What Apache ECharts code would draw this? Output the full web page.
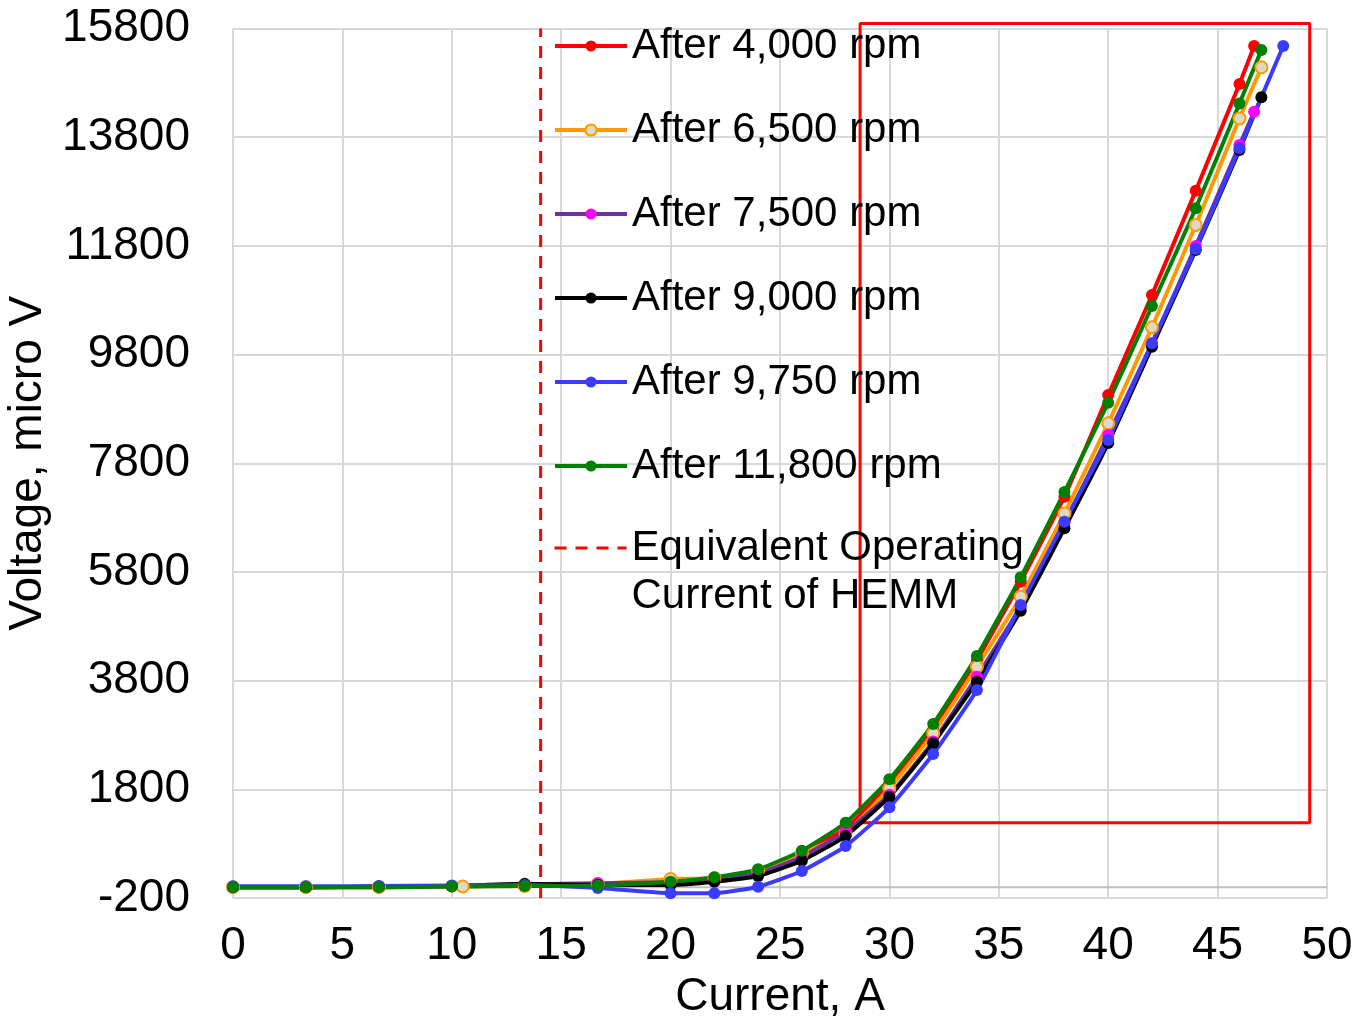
<!DOCTYPE html>
<html>
<head>
<meta charset="utf-8">
<title>Voltage vs Current</title>
<script src="https://cdn.jsdelivr.net/npm/echarts@6/dist/echarts.min.js"></script>
<style>
  html, body { margin: 0; padding: 0; background: #fff; }
  #chart { width: 1360px; height: 1019px; }
</style>
</head>
<body>
<div id="chart"></div>
<script>
// Current (A) and voltage (micro V) readings for each run
const current4000  = [0, 3.33, 6.67, 10, 13.33, 16.67, 20, 22, 24, 26, 28, 30, 32, 34, 36, 38, 40, 42, 44, 46, 46.67];
const voltage4000  = [0, 0, 0, 10, 30, 50, 120, 170, 300, 640, 1082, 1910, 2891, 4179, 5620, 7184, 9055, 10895, 12816, 14778, 15477];

const current6500  = [0, 3.33, 6.67, 10.5, 13.33, 16.67, 20, 22, 24, 26, 28, 30, 32, 34, 36, 38, 40, 42, 44, 46, 47];
const voltage6500  = [0, 0, 0, 10, 20, 60, 150, 162, 302, 622, 990, 1818, 2830, 4056, 5344, 6877, 8534, 10301, 12183, 14145, 15085];

const current7500  = [0, 3.33, 6.67, 10, 13.33, 16.67, 20, 22, 24, 26, 28, 30, 32, 34, 36, 38, 40, 42, 44, 46, 46.67];
const voltage7500  = [0, 0, 10, 20, 50, 70, 90, 130, 250, 560, 1020, 1700, 2680, 3872, 5160, 6700, 8319, 10006, 11797, 13655, 14268];

const current9000  = [0, 3.33, 6.67, 10, 13.33, 16.67, 20, 22, 24, 26, 28, 30, 32, 34, 36, 38, 40, 42, 44, 46, 47];
const voltage9000  = [0, 0, 10, 20, 60, 40, 40, 100, 205, 486, 940, 1664, 2646, 3780, 5086, 6602, 8172, 9944, 11723, 13563, 14533];

const current9750  = [0, 3.33, 6.67, 10, 13.33, 16.67, 20, 22, 24, 26, 28, 30, 32, 34, 36, 38, 40, 42, 44, 46, 48];
const voltage9750  = [15, 15, 20, 30, 40, -16, -113, -113, 8, 297, 756, 1469, 2450, 3627, 5191, 6724, 8227, 10006, 11742, 13595, 15477];

const current11800 = [0, 3.33, 6.67, 10, 13.33, 16.67, 20, 22, 24, 26, 28, 30, 32, 34, 36, 38, 40, 42, 44, 46, 47];
const voltage11800 = [0, 0, 0, 10, 20, 30, 100, 181, 328, 670, 1186, 1984, 3002, 4253, 5701, 7270, 8914, 10693, 12491, 14421, 15403];

// Equivalent operating current of the HEMM (vertical reference)
const hemmCurrent = [14.06, 14.06];
const hemmVoltage = [-200, 15800];

// Highlighted region: current range and voltage range
const boxCurrent = [28.66, 49.21];
const boxVoltage = [1186, 15892];

// Axis ranges
const currentAxis = { min: 0, max: 50, step: 5 };
const voltageAxis = { min: -200, max: 15800, step: 2000 };

const runNames = ['After 4,000 rpm', 'After 6,500 rpm', 'After 7,500 rpm',
                  'After 9,000 rpm', 'After 9,750 rpm', 'After 11,800 rpm'];
const hemmName = 'Equivalent Operating\nCurrent of HEMM';

const pairs = (xs, ys) => xs.map((x, i) => [x, ys[i]]);

const FONT = "'Liberation Sans', Arial, sans-serif";

function runSeries(name, xs, ys, lineColor, fill, border) {
  return {
    name: name,
    type: 'line',
    data: pairs(xs, ys),
    symbol: 'circle',
    symbolSize: 12,
    smooth: 0.15,
    lineStyle: { color: lineColor, width: 4 },
    itemStyle: border
      ? { color: fill, borderColor: border, borderWidth: 2 }
      : { color: fill, borderWidth: 0 },
    z: 3
  };
}

const boxPath = [
  [boxCurrent[0], boxVoltage[0]],
  [boxCurrent[1], boxVoltage[0]],
  [boxCurrent[1], boxVoltage[1]],
  [boxCurrent[0], boxVoltage[1]],
  [boxCurrent[0], boxVoltage[0]]
];

const chart = echarts.init(document.getElementById('chart'), null, { renderer: 'canvas' });

chart.setOption({
  animation: false,
  backgroundColor: '#ffffff',
  textStyle: { fontFamily: FONT },
  grid: { left: 233, right: 33, top: 28.5, bottom: 121, containLabel: false, outerBoundsMode: 'none' },
  legend: [
    {
      data: runNames,
      orient: 'vertical',
      left: 553,
      top: 25,
      padding: 0,
      itemWidth: 72,
      itemHeight: 14,
      itemGap: 42,
      lineStyle: { width: 4 },
      textStyle: { fontFamily: FONT, fontSize: 42, color: '#000' },
      selectedMode: false
    },
    {
      data: [hemmName],
      orient: 'vertical',
      left: 553,
      top: 476,
      padding: 0,
      itemWidth: 72,
      itemHeight: 14,
      lineStyle: { width: 3 },
      // first text line sits level with the dashed icon
      formatter: function (name) {
        const lines = name.split('\n');
        return '{gap| }\n{t|' + lines[0] + '}\n{t|' + lines[1] + '}';
      },
      textStyle: {
        fontFamily: FONT, fontSize: 42, color: '#000',
        rich: {
          gap: { fontSize: 10, lineHeight: 48, height: 48 },
          t: { fontFamily: FONT, fontSize: 42, lineHeight: 48, color: '#000' }
        }
      },
      selectedMode: false
    }
  ],
  xAxis: {
    type: 'value',
    min: currentAxis.min,
    max: currentAxis.max,
    interval: currentAxis.step,
    name: 'Current, A',
    nameLocation: 'middle',
    nameGap: 74,
    nameTextStyle: { fontFamily: FONT, fontSize: 46, color: '#000' },
    axisLine: { show: false },
    axisTick: { show: false },
    axisLabel: { fontFamily: FONT, fontSize: 46, color: '#000', margin: 25 },
    splitLine: { show: true, lineStyle: { color: '#d9d9d9', width: 2 } }
  },
  yAxis: {
    type: 'value',
    min: voltageAxis.min,
    max: voltageAxis.max,
    interval: voltageAxis.step,
    name: 'Voltage, micro V',
    nameLocation: 'middle',
    nameRotate: 90,
    nameGap: 169,
    nameTextStyle: { fontFamily: FONT, fontSize: 46, color: '#000' },
    axisLine: { show: false },
    axisTick: { show: false },
    axisLabel: {
      fontFamily: FONT, fontSize: 46, color: '#000', margin: 43,
      formatter: function (v) { return String(v); }
    },
    splitLine: { show: true, lineStyle: { color: '#d9d9d9', width: 2 } }
  },
  series: [
    {
      name: 'zero',
      type: 'line',
      data: [[currentAxis.min, 0], [currentAxis.max, 0]],
      symbol: 'none',
      lineStyle: { color: '#bfbfbf', width: 2 },
      silent: true,
      z: 1
    },
    {
      name: hemmName,
      type: 'line',
      data: pairs(hemmCurrent, hemmVoltage),
      symbol: 'none',
      lineStyle: { color: '#ff0000', width: 3, type: [12, 9] },
      itemStyle: { color: 'rgba(0,0,0,0)' },
      z: 2
    },
    {
      name: 'box',
      type: 'line',
      data: boxPath,
      symbol: 'none',
      clip: false,
      lineStyle: { color: '#ff0000', width: 3 },
      silent: true,
      z: 2
    },
    runSeries(runNames[0], current4000, voltage4000, '#ff0000', '#ff0000'),
    runSeries(runNames[1], current6500, voltage6500, '#ff9900', '#ddd9c3', '#ff9900'),
    runSeries(runNames[2], current7500, voltage7500, '#7030a0', '#ff00ff'),
    runSeries(runNames[3], current9000, voltage9000, '#000000', '#000000'),
    runSeries(runNames[4], current9750, voltage9750, '#3b3bff', '#3b3bff'),
    runSeries(runNames[5], current11800, voltage11800, '#008000', '#008000')
  ]
});
</script>
</body>
</html>
